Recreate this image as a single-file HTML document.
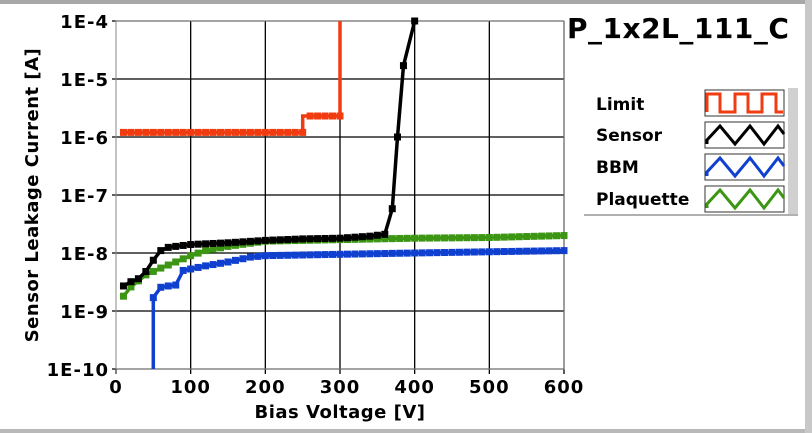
<!DOCTYPE html><html><head><style>body{margin:0;background:#fff;width:812px;height:433px;overflow:hidden}svg{display:block;font-family:"DejaVu Sans","Liberation Sans",sans-serif;font-weight:bold}</style></head><body>
<svg id="s" width="812" height="433" viewBox="0 0 812 433">
<rect x="0" y="0" width="812" height="4" fill="#a8a8a8"/>
<rect x="0" y="429" width="812" height="4" fill="#b8b8b8"/>
<rect x="805" y="0" width="7" height="433" fill="#c8c8c8"/>
<rect x="566" y="4" width="239" height="425" fill="#fff"/>
<g id="grid"></g>
<rect x="116" y="21" width="448" height="348" fill="none" stroke="#888" stroke-width="1"/>
<g id="data"></g>
<g font-size="18" text-anchor="end" id="yl" letter-spacing="1"></g>
<g font-size="18" text-anchor="middle" id="xl" letter-spacing="1"></g>
<text x="340" y="418" font-size="18" text-anchor="middle" letter-spacing="0.5">Bias Voltage [V]</text>
<text transform="translate(38,195) rotate(-90)" font-size="18" text-anchor="middle" letter-spacing="0.5">Sensor Leakage Current [A]</text>
<text x="567" y="38" font-size="28" letter-spacing="0.5">P_1x2L_111_C</text>
<rect x="584" y="88" width="204" height="127" fill="#fff"/>
<rect x="788" y="88" width="10" height="128" fill="#d0d0d0"/>
<rect x="584" y="214" width="214" height="2" fill="#b0b0b0"/>
<g font-size="17">
<text x="596" y="110">Limit</text><text x="596" y="141">Sensor</text><text x="596" y="173">BBM</text><text x="596" y="205">Plaquette</text></g>
<g id="leg"></g>
</svg>
<script>
const X=v=>116+v*448/600, Y=i=>21+(-4-Math.log10(i))*58;
const g=document.getElementById('grid'),d=document.getElementById('data');
let h='';
for(let k=0;k<=6;k++){let y=21+k*58;h+=`<line x1="112" x2="564" y1="${y}" y2="${y}" stroke="#000" stroke-width="1.3"/>`;}
for(let v=100;v<=600;v+=100){let x=X(v);h+=`<line x1="${x}" x2="${x}" y1="21" y2="374" stroke="#000" stroke-width="1.3"/>`;}
h+=`<line x1="116" x2="116" y1="369" y2="374" stroke="#000"/>`;
g.innerHTML=h;
let yl='';['1E-4','1E-5','1E-6','1E-7','1E-8','1E-9','1E-10'].forEach((t,k)=>yl+=`<text x="109" y="${21+k*58+7}">${t}</text>`);
document.getElementById('yl').innerHTML=yl;
let xl='';for(let v=0;v<=600;v+=100)xl+=`<text x="${X(v)}" y="393">${v}</text>`;document.getElementById('xl').innerHTML=xl;
function interp(pts,step){let o=[];for(let v=pts[0][0];v<=pts[pts.length-1][0]+0.01;v+=step){for(let j=0;j<pts.length-1;j++){if(v>=pts[j][0]&&v<=pts[j+1][0]){let t=(v-pts[j][0])/(pts[j+1][0]-pts[j][0]);let l=Math.log10(pts[j][1])*(1-t)+Math.log10(pts[j+1][1])*t;o.push([v,Math.pow(10,l)]);break;}}}return o;}
function draw(pts,col,mk){let p=pts.map((q,i)=>(i?'L':'M')+X(q[0]).toFixed(1)+' '+Y(q[1]).toFixed(1)).join(' ');
let s=`<path d="${p}" fill="none" stroke="${col}" stroke-width="3.5"/>`;
(mk||pts).forEach(q=>{s+=`<rect x="${X(q[0])-3.5}" y="${Y(q[1])-3.5}" width="7" height="7" fill="${col}"/>`});
d.innerHTML+=s;}
let lim=[];for(let v=10;v<=250;v+=10)lim.push([v,1.2e-6]);
let limPts=[[10,1.2e-6],[250,1.2e-6],[250,2.3e-6],[300,2.3e-6],[300,1e-4]];
let lm=lim.concat([[260,2.3e-6],[270,2.3e-6],[280,2.3e-6],[290,2.3e-6],[300,2.3e-6]]);
draw(limPts,'#f03c10',lm);
let gp=interp([[10,1.8e-9],[20,2.6e-9],[40,4.2e-9],[60,5.5e-9],[80,7e-9],[100,9e-9],[120,1.1e-8],[150,1.3e-8],[200,1.6e-8],[300,1.7e-8],[350,1.75e-8],[400,1.8e-8],[500,1.85e-8],[600,2e-8]],10);
draw(gp,'#3c9614');
let bp=[[50,1e-10]].concat(interp([[50,1.7e-9],[55,2.5e-9],[70,2.7e-9],[80,2.8e-9],[90,5e-9],[100,5.3e-9],[120,6e-9],[150,7e-9],[180,8.5e-9],[200,9e-9],[300,9.5e-9],[400,1e-8],[500,1.05e-8],[600,1.1e-8]],10));
draw(bp,'#1040d0',bp.slice(1));
let sp=interp([[10,2.7e-9],[20,3.2e-9],[30,3.6e-9],[40,4.8e-9],[50,7.5e-9],[60,1.1e-8],[70,1.25e-8],[80,1.3e-8],[100,1.4e-8],[150,1.5e-8],[200,1.65e-8],[250,1.75e-8],[300,1.8e-8],[340,1.95e-8],[360,2.1e-8]],10);
sp=sp.concat([[370,5.8e-8],[377,1e-6],[385,1.7e-5],[400,1e-4]]);
draw(sp,'#000');
let L='';const sw=[[90,'#f03c10',1],[122,'#000',0],[154,'#1040d0',0],[186,'#3c9614',0]];
sw.forEach(([y,c,sq])=>{L+=`<rect x="705" y="${y}" width="79" height="26" fill="#fff" stroke="#333"/>`;
let p;if(sq){p=`M707 ${y+22} L707 ${y+4} L720 ${y+4} L720 ${y+22} L735 ${y+22} L735 ${y+4} L748 ${y+4} L748 ${y+22} L762 ${y+22} L762 ${y+4} L776 ${y+4} L776 ${y+22} L783 ${y+22}`;}
else{p=`M707 ${y+22} L707 ${y+18} L720 ${y+4} L735 ${y+22} L750 ${y+4} L764 ${y+22} L778 ${y+4} L784 ${y+12}`;}
L+=`<path d="${p}" fill="none" stroke="${c}" stroke-width="3"/>`;});
document.getElementById('leg').innerHTML=L;
</script>
</body></html>
